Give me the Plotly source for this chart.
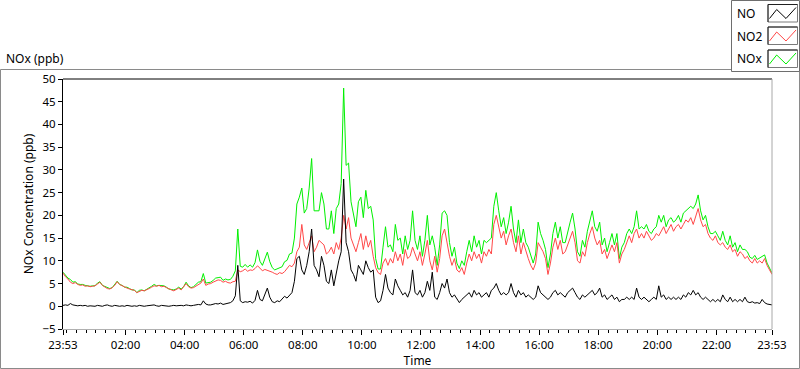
import pandas as pd
import plotly.graph_objects as go

# ---- data (5-minute samples starting 23:53) ----
start_time = "2015-06-01 23:53"
n_samples = 289

no2 = [7.3, 6.5, 6.0, 5.3, 5.0, 5.2, 4.8, 4.6, 4.7, 4.4, 4.5, 4.3,
       4.4, 4.5, 4.9, 5.3, 4.6, 4.2, 3.9, 3.8, 4.1, 4.6, 5.4, 4.8,
       4.5, 4.2, 4.0, 3.8, 3.6, 3.5, 3.0, 3.3, 3.5, 3.4, 3.6, 3.9,
       4.2, 4.5, 4.4, 4.6, 4.3, 4.4, 4.1, 3.8, 3.6, 3.4, 3.7, 4.0,
       3.6, 4.2, 5.0, 4.3, 4.0, 4.1, 4.5, 4.9, 5.1, 6.0, 4.6, 4.9,
       5.0, 5.3, 5.6, 5.8, 5.7, 5.3, 5.5, 5.2, 5.1, 5.4, 5.5, 8.0,
       7.6, 7.8, 8.2, 7.7, 8.0, 7.9, 8.3, 8.9, 8.4, 7.8, 8.1, 7.9,
       7.8, 7.5, 7.2, 7.0, 7.4, 7.2, 7.6, 8.3, 9.0, 8.7, 9.5, 12.0,
       13.0, 18.0, 13.5, 12.5, 14.0, 15.5, 12.0, 13.0, 14.5, 14.0, 13.5, 11.5,
       12.0, 13.0, 11.5, 14.0, 12.5, 15.0, 20.0, 17.0, 19.5, 15.0, 13.5, 12.0,
       14.0, 16.0, 12.5, 15.5, 13.0, 14.5, 11.0, 8.5, 7.4, 7.0, 9.5, 10.5,
       9.0, 10.5, 9.5, 12.0, 10.0, 11.5, 9.0, 12.5, 10.5, 11.0, 13.0, 11.5,
       10.0, 12.0, 9.0, 11.5, 14.5, 10.0, 8.0, 11.0, 7.5, 10.5, 15.5, 17.0,
       14.0, 11.0, 9.0, 10.5, 8.0, 7.5, 8.5, 7.0, 9.5, 11.5, 10.0, 12.0,
       10.5, 11.5, 9.5, 12.0, 11.0, 12.5, 11.5, 18.0, 20.0, 17.5, 15.0, 16.5,
       13.5, 15.5, 17.0, 14.0, 12.0, 15.5, 11.5, 14.0, 12.0, 10.5, 9.0, 8.0,
       9.5, 14.0, 13.0, 12.0, 10.5, 7.0, 9.5, 13.0, 15.0, 12.5, 14.5, 11.5,
       12.0, 13.5, 15.0, 16.5, 14.0, 10.0, 9.5, 12.0, 11.0, 14.0, 16.0, 17.5,
       15.0, 13.5, 14.5, 11.5, 12.5, 10.5, 12.0, 13.5, 12.0, 14.0, 9.5, 11.5,
       12.5, 14.0, 15.5, 14.0, 16.0, 17.0, 15.0, 16.0, 15.0, 16.5, 15.5, 14.5,
       15.0, 16.0, 15.5, 16.5, 17.5, 16.0, 17.0, 18.0, 16.5, 17.5, 18.0, 17.0,
       18.0, 19.0, 18.5, 19.5, 18.0, 20.0, 21.5, 19.0, 17.5, 18.0, 16.0, 15.0,
       14.5, 15.5, 14.0, 13.5, 14.0, 13.0, 12.5, 13.5, 12.0, 12.5, 11.0, 12.0,
       11.5, 10.5, 11.0, 10.0, 9.5, 10.5, 9.5, 10.0, 9.5, 10.5, 9.0, 8.0, 7.0]

no = [0.2, 0.3, 0.2, 0.6, 0.3, 0.2, 0.1, 0.2, 0.1, 0.2, 0.0, 0.1,
      0.1, 0.0, 0.2, 0.1, 0.0, 0.2, 0.3, 0.1, 0.0, 0.2, 0.1, 0.0,
      0.1, 0.0, 0.2, 0.1, 0.0, 0.1, 0.0, 0.2, 0.1, 0.0, 0.1, 0.2,
      0.2, 0.3, 0.1, 0.0, 0.2, 0.1, 0.1, 0.0, 0.1, 0.2, 0.1, 0.2,
      0.2, 0.1, 0.3, 0.2, 0.1, 0.2, 0.3, 0.4, 0.3, 1.2, 0.5, 0.3,
      0.3, 0.4, 0.6, 0.5, 0.7, 0.4, 0.5, 0.6, 0.8, 1.2, 2.3, 9.0,
      1.2, 0.8, 1.0, 0.9, 1.1, 0.7, 1.3, 3.5, 1.5, 1.2, 2.5, 4.0,
      2.0, 1.0, 0.8, 1.2, 1.0, 1.5, 2.2, 1.8, 2.5, 3.0, 5.5, 10.5,
      11.0, 8.0, 7.0, 9.0, 12.0, 17.0, 9.0, 8.0, 6.5, 11.0, 9.0, 5.5,
      5.0, 8.0, 4.5, 7.5, 10.0, 12.0, 28.0, 14.0, 12.0, 8.0, 7.0, 5.5,
      9.0, 8.0, 7.0, 10.0, 8.5, 7.5, 8.0, 2.0, 0.8, 1.2, 3.5, 7.0,
      4.0, 3.0, 2.5, 6.0, 4.5, 3.5, 2.5, 3.0, 2.0, 3.5, 8.0, 3.0,
      2.5, 3.5, 2.0, 3.0, 5.5, 3.5, 7.5, 2.0, 1.5, 3.0, 5.0, 4.0,
      6.0, 3.0, 2.0, 2.5, 1.5, 0.8, 1.5, 2.0, 2.5, 3.0, 2.0, 3.5,
      2.5, 3.0, 2.0, 2.5, 3.0, 2.0, 3.5, 4.0, 5.0, 3.5, 2.5, 3.0,
      2.5, 3.0, 5.0, 3.0, 2.0, 3.5, 2.5, 3.0, 2.0, 2.5, 2.0, 1.5,
      2.0, 4.5, 3.0, 2.5, 2.0, 1.5, 2.0, 3.0, 3.5, 2.5, 3.0, 2.5,
      2.0, 3.0, 3.5, 4.0, 3.0, 2.0, 1.5, 2.5, 2.0, 2.5, 3.0, 3.5,
      2.5, 3.0, 4.0, 2.0, 2.5, 1.5, 2.0, 2.5, 1.5, 2.0, 1.0, 1.5,
      1.5, 2.0, 1.5, 2.0, 1.5, 4.0, 2.0, 1.5, 2.0, 1.5, 1.0, 1.5,
      2.0, 1.5, 4.5, 2.0, 2.5, 1.5, 2.0, 1.5, 2.0, 1.5, 2.0, 1.5,
      2.5, 2.0, 3.0, 2.5, 3.5, 2.5, 3.0, 2.0, 1.5, 2.0, 1.5, 1.0,
      1.5, 1.0, 1.5, 1.0, 2.5, 1.5, 1.0, 2.0, 1.0, 1.5, 1.0, 1.5,
      1.0, 2.0, 1.0, 0.8, 1.0, 0.7, 0.8, 0.6, 1.5, 0.8, 0.5, 0.4, 0.3]

# NOx is by definition NO + NO2
nox = [round(a + b, 1) for a, b in zip(no, no2)]

tick_labels = ["23:53", "02:00", "04:00", "06:00", "08:00", "10:00", "12:00",
               "14:00", "16:00", "18:00", "20:00", "22:00", "23:53"]
tick_times = ["2015-06-01 23:53", "2015-06-02 02:00", "2015-06-02 04:00",
              "2015-06-02 06:00", "2015-06-02 08:00", "2015-06-02 10:00",
              "2015-06-02 12:00", "2015-06-02 14:00", "2015-06-02 16:00",
              "2015-06-02 18:00", "2015-06-02 20:00", "2015-06-02 22:00",
              "2015-06-02 23:53"]

series_names = ["NO", "NO2", "NOx"]
series_colors = {"NO": "#000000", "NO2": "#ff4848", "NOx": "#00f000"}

times = pd.date_range(start_time, periods=n_samples, freq="5min")
minor_ticks = pd.date_range("2015-06-02 00:00", "2015-06-02 23:40", freq="20min")

FONT = "Noto Sans"

fig = go.Figure()
for name, vals in [("NOx", nox), ("NO2", no2), ("NO", no)]:
    fig.add_trace(go.Scatter(x=times, y=vals, mode="lines", name=name,
                             line=dict(color=series_colors[name], width=1),
                             showlegend=False, hoverinfo="skip"))

# pixel helpers for decorations (plot area: x 63..772, y 79..329)
L, R, T, B = 63, 772, 79, 329
def px(x):
    return (x - L) / (R - L)
def py(y):
    return (B - y) / (B - T)

shapes = []
# outer frame
shapes.append(dict(type="rect", xref="paper", yref="paper",
                   x0=px(0.5), x1=px(799.5), y0=py(69.5), y1=py(368.5),
                   line=dict(color="#8a8a8a", width=1), fillcolor="rgba(0,0,0,0)"))
# plot area border: top dark, right light
shapes.append(dict(type="line", xref="paper", yref="paper",
                   x0=0, x1=1, y0=1, y1=1, line=dict(color="#000000", width=1)))
shapes.append(dict(type="line", xref="paper", yref="paper",
                   x0=1, x1=1, y0=0, y1=1, line=dict(color="#a8a8a8", width=1)))
# legend box
shapes.append(dict(type="rect", xref="paper", yref="paper",
                   x0=px(731.5), x1=px(799.5), y0=py(71.5), y1=py(0.5),
                   line=dict(color="#6e6e6e", width=1), fillcolor="#ffffff"))

annotations = []
row_tops = [4.5, 27.0, 50.0]
for name, top in zip(series_names, row_tops):
    shapes.append(dict(type="rect", xref="paper", yref="paper",
                       x0=px(768), x1=px(797.5), y0=py(top + 17.5), y1=py(top),
                       line=dict(color="#7a7a7a", width=1), fillcolor="#ffffff"))
    shapes.append(dict(type="line", xref="paper", yref="paper",
                       x0=px(768), x1=px(797.5), y0=py(top), y1=py(top),
                       line=dict(color="#202020", width=1)))
    shapes.append(dict(type="line", xref="paper", yref="paper",
                       x0=px(768), x1=px(768), y0=py(top), y1=py(top + 17.5),
                       line=dict(color="#202020", width=1)))
    zz = [(769.5, 14), (776.7, 5), (786, 14), (796, 3)]
    path = "M " + " L ".join(f"{px(a):.5f},{py(top + b):.5f}" for a, b in zz)
    shapes.append(dict(type="path", xref="paper", yref="paper", path=path,
                       line=dict(color=series_colors[name], width=1)))
    annotations.append(dict(text=name, xref="paper", yref="paper",
                            x=px(735), y=py(top + 9), xanchor="left", yanchor="middle",
                            showarrow=False, font=dict(family=FONT, size=12, color="#000000")))

annotations.append(dict(text="NOx (ppb)", xref="paper", yref="paper",
                        x=px(4), y=py(59), xanchor="left", yanchor="middle",
                        showarrow=False, font=dict(family=FONT, size=12, color="#000000")))

fig.update_layout(
    width=800, height=369,
    margin=dict(l=L, r=800 - R, t=T, b=369 - B, pad=0, autoexpand=False),
    paper_bgcolor="#ffffff", plot_bgcolor="#ffffff",
    font=dict(family=FONT, size=11.5, color="#000000"),
    shapes=shapes, annotations=annotations,
    xaxis=dict(
        automargin=False,
        range=[tick_times[0], tick_times[-1]],
        tickmode="array", tickvals=tick_times, ticktext=tick_labels,
        ticks="outside", ticklen=5, tickcolor="#000000", tickwidth=1,
        minor=dict(tickmode="array", tickvals=list(minor_ticks), ticks="outside",
                   ticklen=3, tickcolor="#000000", tickwidth=1, showgrid=False),
        showgrid=False, zeroline=False,
        showline=True, linecolor="#b0b0b0", linewidth=1,
        title=dict(text="Time", standoff=2, font=dict(family=FONT, size=12)),
        tickfont=dict(family=FONT, size=11.5),
    ),
    yaxis=dict(
        automargin=False,
        range=[-5, 50], tickmode="linear", tick0=-5, dtick=5,
        ticks="outside", ticklen=4, tickcolor="#000000", tickwidth=1,
        showgrid=False, zeroline=False,
        showline=True, linecolor="#000000", linewidth=1,
        title=dict(text="NOx Concentration (ppb)", standoff=6, font=dict(family=FONT, size=12)),
        tickfont=dict(family=FONT, size=11.5),
    ),
)

fig.write_html("out.html",
               config={"displayModeBar": False, "staticPlot": True},
               post_script="document.body.style.margin='0';document.body.style.overflow='hidden';")
